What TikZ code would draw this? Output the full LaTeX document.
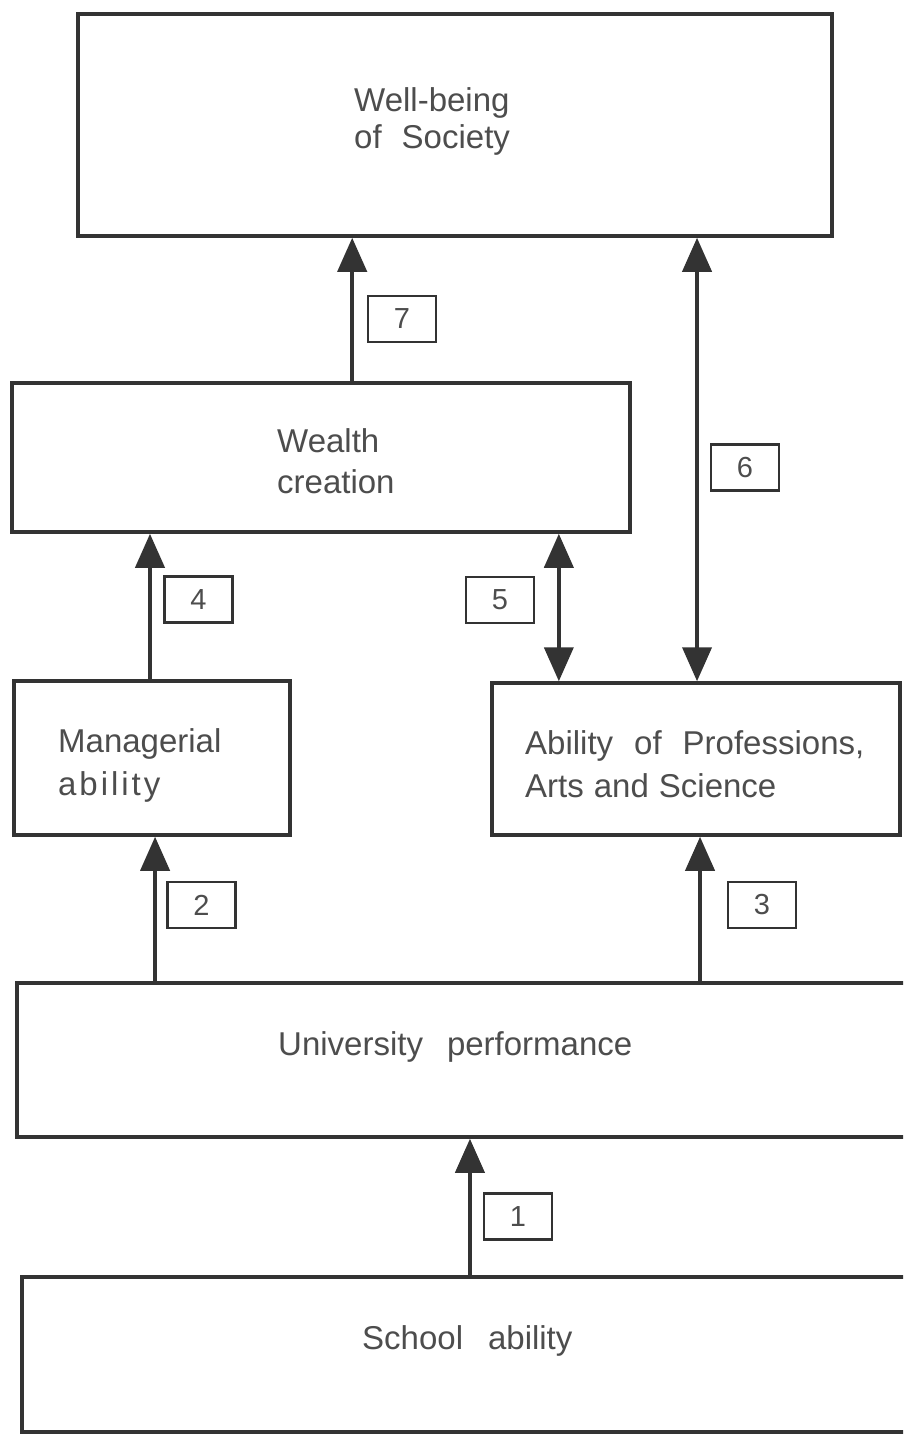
\documentclass[tikz,border=0pt]{standalone}
\usepackage{fontspec}
\setmainfont{Liberation Sans}
\usetikzlibrary{arrows.meta,calc}
\definecolor{ink}{HTML}{333333}
\definecolor{txt}{HTML}{4D4D4D}
\begin{document}
\begin{tikzpicture}[x=1pt,y=-1pt,
  box/.style={draw=ink,line width=3.5pt,inner sep=0pt},
  lbl/.style={font=\fontsize{33}{41}\selectfont,text=txt,inner sep=0pt,anchor=base west},
  num/.style={draw=ink,line width=2.2pt,minimum width=68pt,minimum height=46pt,inner sep=0pt,font=\fontsize{29}{30}\selectfont,text=txt},
  arr/.style={draw=ink,line width=4pt,-{Triangle[width=29pt,length=34pt]}},
  darr/.style={draw=ink,line width=4pt,{Triangle[width=29pt,length=34pt]}-{Triangle[width=29pt,length=34pt]}}]
\useasboundingbox[fill=white] (0,0) rectangle (903,1435);
\clip (0,0) rectangle (903,1435);

% boxes
\node[box,minimum width=754pt,minimum height=222pt] (wb) at (455,125) {};
\node[box,minimum width=618pt,minimum height=149pt] (wc) at (321,457.5) {};
\node[box,minimum width=276pt,minimum height=154pt] (mg) at (152,758) {};
\node[box,minimum width=408pt,minimum height=152pt] (ab) at (696,759) {};
\node[box,minimum width=943pt,minimum height=154pt] (un) at (488.5,1060) {};
\node[box,minimum width=938pt,minimum height=155pt] (sc) at (491,1354.5) {};

% texts
\node[lbl] (wb1) at (354,111) {Well-being};
\node[lbl] (wb2) at (354,148) {of\hspace{20pt}Society};
\node[lbl] (wc1) at (277,452) {Wealth};
\node[lbl] (wc2) at (277,493) {creation};
\node[lbl] (mg1) at (58,752) {Managerial};
\node[lbl] (mg2) at (58,795) {\addfontfeature{LetterSpace=9}ability};
\node[lbl] (ab1) at (525,754) {Ability\hspace{21pt}of\hspace{21pt}Professions,};
\node[lbl] (ab2) at (525,797) {Arts\hspace{10pt}and\hspace{10pt}Science};
\node[lbl] (un1) at (278,1055) {University\hspace{24pt}performance};
\node[lbl] (sc1) at (362,1349) {School\hspace{25pt}ability};

% number labels
\node[num] (n7) at (402,319) {7};
\node[num] (n6) at (745,467.5) {6};
\node[num] (n4) at (198.5,599.5) {4};
\node[num] (n5) at (500,600) {5};
\node[num] (n2) at (201.5,905) {2};
\node[num] (n3) at (762,905) {3};
\node[num] (n1) at (518,1216.5) {1};

% connectors
\coordinate (a7) at ($(wc.north west)!0.5502!(wc.north east)$);
\draw[arr] (a7) -- (a7 |- wb.south);
\coordinate (a6) at ($(ab.north west)!0.5025!(ab.north east)$);
\draw[darr] (a6 |- wb.south) -- (a6);
\coordinate (a5) at ($(ab.north west)!0.1667!(ab.north east)$);
\draw[darr] (a5 |- wc.south) -- (a5);
\coordinate (a4) at ($(mg.north west)!0.4928!(mg.north east)$);
\draw[arr] (a4) -- (a4 |- wc.south);
\coordinate (a2) at ($(mg.south west)!0.511!(mg.south east)$);
\draw[arr] (a2 |- un.north) -- (a2);
\coordinate (a3) at ($(ab.south west)!0.5098!(ab.south east)$);
\draw[arr] (a3 |- un.north) -- (a3);
\coordinate (a1) at ($(un.south west)!0.4804!(un.south east)$);
\draw[arr] (a1 |- sc.north) -- (a1);
\end{tikzpicture}
\end{document}
